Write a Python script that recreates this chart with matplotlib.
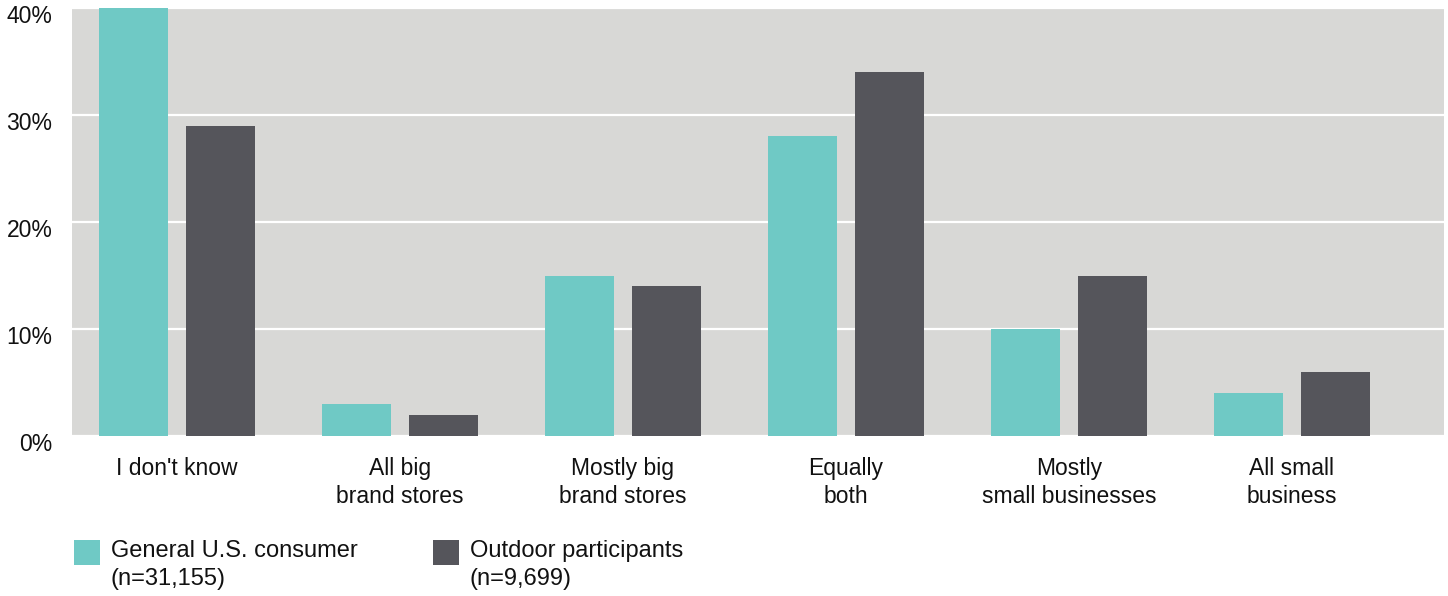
import numpy as np
import matplotlib.pyplot as plt
import matplotlib.transforms as mtransforms
from matplotlib.patches import Rectangle

plt.rcParams['font.family'] = ['Liberation Sans', 'DejaVu Sans']

categories = ["I don't know", "All big\nbrand stores", "Mostly big\nbrand stores",
              "Equally\nboth", "Mostly\nsmall businesses", "All small\nbusiness"]
general = [40, 3, 15, 28, 10, 4]
outdoor = [29, 2, 14, 34, 15, 6]
series_names = ["General U.S. consumer\n(n=31,155)", "Outdoor participants\n(n=9,699)"]
yticks = [0, 10, 20, 30, 40]

teal = "#6fc9c5"
dark = "#55555b"
bg = "#d8d8d6"
txt = "#111111"

W, H = 1448, 596
fig = plt.figure(figsize=(W/100, H/100), dpi=100)
ax = fig.add_axes([72/W, 160/H, 1372/W, 428/H])
ax.set_facecolor(bg)

x = np.arange(len(categories))
w = 0.309
off = 0.195
ax.bar(x - off, general, w, color=teal, zorder=3)
ax.bar(x + off, outdoor, w, color=dark, zorder=3)

ax.set_xlim(-0.471, 5.682)
ax.set_ylim(0, 40)
ax.set_yticks(yticks)
ax.set_yticklabels([f"{t}%" for t in yticks])
ax.yaxis.grid(True, color="white", linewidth=1.6, zorder=1)
ax.set_axisbelow(True)
ax.set_xticks(x)
ax.set_xticklabels(categories, linespacing=1.3)
ax.tick_params(axis="both", length=0, labelsize=16.5, colors=txt)
ax.tick_params(axis="x", pad=15)
ax.tick_params(axis="y", pad=14)
for lab in ax.get_yticklabels():
    lab.set_transform(lab.get_transform() + mtransforms.ScaledTranslation(0, -6/100, fig.dpi_scale_trans))
for s in ax.spines.values():
    s.set_visible(False)

# legend, drawn by hand
for (sx, tx), col, name in zip([(74, 111), (433, 470)], [teal, dark], series_names):
    fig.add_artist(Rectangle((sx/W, 1 - 565/H), 26/W, 25/H, transform=fig.transFigure,
                             color=col, lw=0))
    fig.text(tx/W, 1 - 540/H, name, va="top", ha="left", fontsize=17,
             color=txt, linespacing=1.35)

fig.savefig("out.png", dpi=100)
